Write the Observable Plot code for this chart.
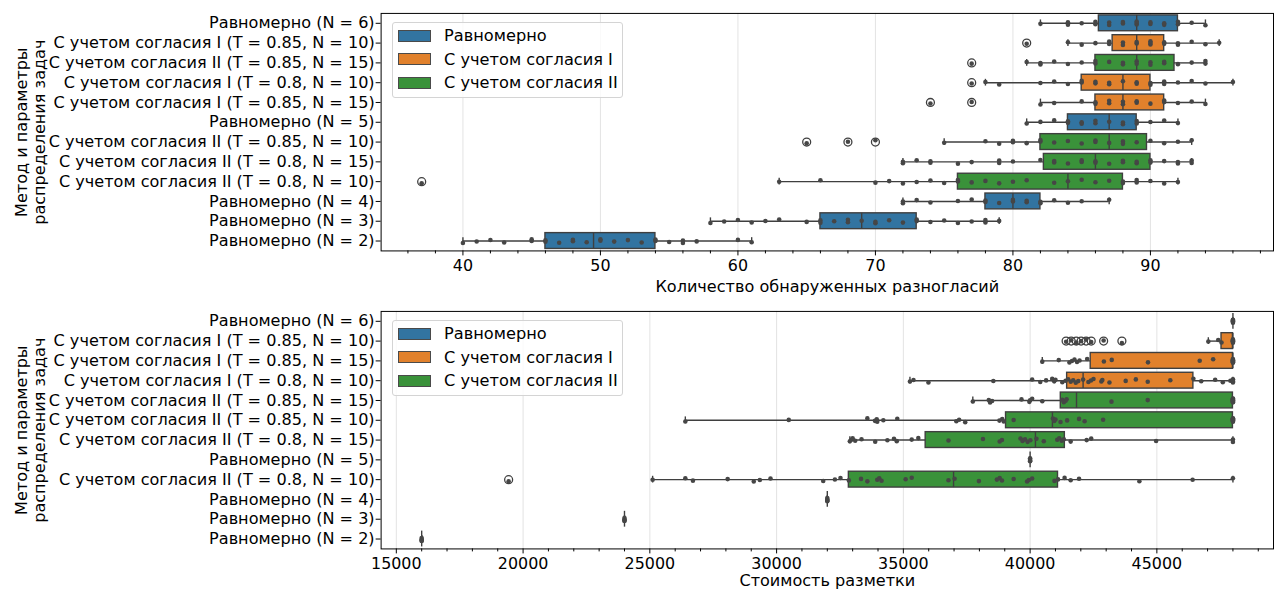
<!DOCTYPE html>
<html><head><meta charset="utf-8">
<script src="https://cdn.jsdelivr.net/npm/d3@7"></script>
<script src="https://cdn.jsdelivr.net/npm/@observablehq/plot@0.6"></script>
<style>
html,body{margin:0;padding:0;overflow:hidden;background:#fff;width:1274px;height:590px}
#wrap{position:relative;width:1274px;height:590px;overflow:hidden}
.panel{position:absolute;left:0}
.legend{position:absolute;left:392px;width:229px;height:74px;border:1px solid #d4d4d4;border-radius:3px;background:rgba(255,255,255,0.8);font-family:"DejaVu Sans",sans-serif;font-size:16.2px;color:#000}
.legend .row{position:absolute;left:5px;height:22px;display:flex;align-items:center;white-space:nowrap}
.legend .sw{width:31px;height:10px;border:1px solid #4a4a4a;margin-right:13px}
</style></head>
<body><div id="wrap"></div>
<script>
// ---------- shared ----------
const methods = ["Равномерно", "С учетом согласия I", "С учетом согласия II"];
const methodColors = ["#3274a1", "#e1812c", "#3a923a"];
const yTitle = "Метод и параметры\nраспределения задач";

// ---------- top panel: number of detected disagreements ----------
const topTitle = "Количество обнаруженных разногласий";
const topCats = [
  "Равномерно (N = 6)",
  "С учетом согласия I (T = 0.85, N = 10)",
  "С учетом согласия II (T = 0.85, N = 15)",
  "С учетом согласия I (T = 0.8, N = 10)",
  "С учетом согласия I (T = 0.85, N = 15)",
  "Равномерно (N = 5)",
  "С учетом согласия II (T = 0.85, N = 10)",
  "С учетом согласия II (T = 0.8, N = 15)",
  "С учетом согласия II (T = 0.8, N = 10)",
  "Равномерно (N = 4)",
  "Равномерно (N = 3)",
  "Равномерно (N = 2)"
];
const topQ1  = [86.25, 87.25, 86, 85, 86, 84, 82, 82.25, 76, 78, 66, 46];
const topMed = [89, 89, 89, 88, 88, 87, 87, 86, 84, 80, 69, 49.5];
const topQ3  = [92, 91, 91.75, 90, 91, 89, 89.75, 90, 88, 82, 73, 54];
const topLo  = [82, 84, 81, 78, 82, 81, 75, 72, 63, 72, 58, 40];
const topHi  = [94, 95, 94, 96, 94, 92, 93, 93, 92, 87, 79, 61];
const topOutliers = [[], [81], [77], [77], [74, 77], [], [65, 68, 70], [], [37], [], [], []];
const topPoints = [
  [82, 84, 84, 85, 86, 86, 87, 87, 88, 88, 89, 89, 89, 90, 90, 91, 91, 92, 92, 93, 94],
  [81, 84, 85, 86, 87, 87, 88, 88, 89, 89, 90, 90, 90, 91, 91, 92, 92, 93, 94, 95],
  [77, 81, 82, 82, 83, 84, 85, 86, 86, 87, 88, 88, 89, 89, 90, 90, 91, 91, 92, 93, 94, 94],
  [77, 78, 79, 82, 83, 84, 85, 85, 86, 86, 87, 87, 88, 89, 89, 90, 90, 91, 91, 92, 93, 94, 96],
  [74, 77, 82, 83, 85, 86, 86, 87, 87, 88, 88, 89, 89, 90, 91, 91, 92, 93, 94],
  [81, 82, 83, 84, 84, 85, 85, 86, 86, 87, 88, 88, 89, 89, 90, 91, 92],
  [65, 68, 70, 75, 78, 79, 80, 80, 81, 82, 82, 83, 84, 85, 86, 86, 87, 88, 88, 89, 90, 91, 92, 93],
  [72, 72, 73, 74, 74, 76, 77, 79, 79, 80, 82, 83, 83, 84, 85, 85, 86, 86, 87, 88, 88, 89, 89, 90, 90, 91, 92, 92, 93, 93],
  [37, 63, 66, 70, 71, 72, 73, 74, 75, 76, 76, 77, 78, 79, 80, 81, 83, 84, 85, 86, 87, 88, 88, 89, 89, 90, 91, 92],
  [72, 72, 73, 74, 76, 77, 78, 78, 79, 80, 80, 81, 81, 82, 82, 83, 84, 85, 87],
  [58, 59, 60, 61, 62, 63, 65, 66, 66, 67, 68, 68, 69, 70, 70, 71, 72, 73, 73, 74, 75, 76, 77, 78, 78, 79],
  [40, 41, 42, 43, 45, 45, 46, 46, 47, 48, 48, 49, 50, 50, 51, 52, 53, 54, 54, 55, 56, 56, 57, 60, 61]
];
const topTicks = [40, 50, 60, 70, 80, 90];
const topMinorTicks = [36, 38, 42, 44, 46, 48, 52, 54, 56, 58, 62, 64, 66, 68, 72, 74, 76, 78, 82, 84, 86, 88, 92, 94, 96, 98];

// ---------- bottom panel: labelling cost ----------
const botTitle = "Стоимость разметки";
const botCats = [
  "Равномерно (N = 6)",
  "С учетом согласия I (T = 0.85, N = 10)",
  "С учетом согласия I (T = 0.85, N = 15)",
  "С учетом согласия I (T = 0.8, N = 10)",
  "С учетом согласия II (T = 0.85, N = 15)",
  "С учетом согласия II (T = 0.85, N = 10)",
  "С учетом согласия II (T = 0.8, N = 15)",
  "Равномерно (N = 5)",
  "С учетом согласия II (T = 0.8, N = 10)",
  "Равномерно (N = 4)",
  "Равномерно (N = 3)",
  "Равномерно (N = 2)"
];
const botQ1  = [48000, 47550, 42390, 41460, 41210, 39050, 35880, 40000, 32850, 32000, 24000, 16000];
const botMed = [48000, 48000, 48000, 42090, 41830, 40880, 40210, 40000, 36980, 32000, 24000, 16000];
const botQ3  = [48000, 48000, 48000, 46440, 48000, 48000, 41370, 40000, 41100, 32000, 24000, 16000];
const botLo  = [48000, 47030, 40480, 35260, 37740, 26400, 32890, 40000, 25110, 32000, 24000, 16000];
const botHi  = [48000, 48000, 48000, 48000, 48000, 48000, 48000, 40000, 48000, 32000, 24000, 16000];
const botOutliers = [[], [41420, 41620, 41820, 42010, 42210, 42410, 42900, 43620], [], [], [], [], [], [], [19430], [], [], []];
const botPoints = [
  [48000, 48000, 48000, 48000, 48000],
  [41420, 41620, 41820, 42010, 42210, 42410, 42900, 43620, 47030, 47420, 47550, 48000, 48000, 48000, 48000, 48000, 48000],
  [40480, 41130, 41550, 41650, 41750, 41850, 41950, 42250, 42910, 43220, 44650, 46690, 47220, 48000, 48000, 48000, 48000, 48000, 48000, 48000, 48000],
  [35260, 35400, 35990, 38550, 40080, 40400, 40630, 40870, 40950, 41000, 41270, 41400, 41500, 41600, 41700, 41800, 41900, 42090, 42300, 42400, 42500, 42810, 42850, 43130, 43770, 44170, 44640, 45530, 46440, 46750, 47300, 47600, 47900, 48000, 48000, 48000, 48000, 48000],
  [37740, 38370, 38420, 38500, 39660, 39970, 40000, 40080, 40480, 41270, 41330, 41400, 41440, 43210, 44640, 48000, 48000, 48000, 48000, 48000, 48000, 48000, 48000, 48000, 48000],
  [26400, 30480, 33580, 33880, 33950, 33970, 34210, 34760, 37090, 37200, 37440, 38790, 38900, 38960, 39350, 40900, 40950, 41000, 41200, 41460, 41930, 42150, 42880, 48000, 48000, 48000, 48000, 48000, 48000, 48000, 48000],
  [32890, 32950, 33000, 33100, 33350, 33890, 34370, 34630, 34740, 35330, 35590, 36780, 38140, 38800, 38890, 39620, 39700, 39800, 39900, 40010, 40250, 40540, 41070, 41150, 41250, 41330, 41600, 42230, 42410, 44970, 48000, 48000],
  [40000, 40000, 40000, 40000],
  [19430, 25110, 26400, 26700, 28070, 29100, 29340, 29760, 31840, 32300, 32520, 32850, 33330, 33580, 33970, 34050, 34140, 35090, 35330, 36780, 37020, 37980, 38690, 38800, 38890, 39350, 39880, 39950, 40080, 40960, 41100, 41360, 41600, 41930, 44310, 46410, 48000],
  [32000, 32000, 32000, 32000],
  [24000, 24000, 24000, 24000],
  [16000, 16000, 16000, 16000]
];
const botTicks = [15000, 20000, 25000, 30000, 35000, 40000, 45000];
const botMinorTicks = [16000, 17000, 18000, 19000, 21000, 22000, 23000, 24000, 26000, 27000, 28000, 29000, 31000, 32000, 33000, 34000, 36000, 37000, 38000, 39000, 41000, 42000, 43000, 44000, 46000, 47000, 48000, 49000];

// ---------- drawing ----------
const lineColor = "#3f3f3f";
function methodOf(label) {
  if (label.startsWith("Равномерно")) return methods[0];
  return label.includes("согласия II") ? methods[2] : methods[1];
}
// deterministic stripplot jitter (rendering offset only)
function jit(n) { return (((n * 0.6180339887) % 1) - 0.5) * 0.2; }

function makePanel(cfg) {
  const boxes = cfg.cats.map((c, i) => ({
    i, cat: c, method: methodOf(c),
    q1: cfg.q1[i], med: cfg.med[i], q3: cfg.q3[i], lo: cfg.lo[i], hi: cfg.hi[i]
  }));
  const fliers = cfg.outliers.flatMap((arr, i) => arr.map(v => ({i, v})));
  const pts = cfg.points.flatMap((arr, i) => arr.map((v, k) => ({i, v, yj: i + jit(i * 13 + k + 1)})));
  const y1 = d => d.i - 0.4, y2 = d => d.i + 0.4;
  return Plot.plot({
    width: 1282, height: cfg.height,
    marginLeft: 383, marginRight: 1, marginTop: 13, marginBottom: cfg.height - 13 - 239,
    style: {fontFamily: "DejaVu Sans, sans-serif", fontSize: "16px", color: "#000", background: "transparent", overflow: "visible"},
    x: {domain: cfg.domain, label: null},
    y: {domain: [11.5, -0.5], label: null},
    color: {domain: methods, range: methodColors},
    marks: [
      Plot.gridX(cfg.ticks, {stroke: "#e3e3e3", strokeOpacity: 1, strokeWidth: 1}),
      Plot.ruleY(boxes, {y: "i", x1: "lo", x2: "q1", stroke: lineColor, strokeWidth: 1.4}),
      Plot.ruleY(boxes, {y: "i", x1: "q3", x2: "hi", stroke: lineColor, strokeWidth: 1.4}),
      Plot.ruleX(boxes, {x: "lo", y1: d => d.i - 0.17, y2: d => d.i + 0.17, stroke: lineColor, strokeWidth: 1.4}),
      Plot.ruleX(boxes, {x: "hi", y1: d => d.i - 0.17, y2: d => d.i + 0.17, stroke: lineColor, strokeWidth: 1.4}),
      Plot.rect(boxes, {x1: "q1", x2: "q3", y1, y2, fill: "method", stroke: lineColor, strokeWidth: 1.4}),
      Plot.ruleX(boxes, {x: "med", y1, y2, stroke: lineColor, strokeWidth: 1.4}),
      Plot.dot(fliers, {x: "v", y: "i", r: 4, stroke: lineColor, fill: "none", strokeWidth: 1.3}),
      Plot.dot(pts, {x: "v", y: "yj", r: 2.3, fill: "#464646"}),
      Plot.axisX(cfg.minor, {tickSize: 3, tickFormat: () => "", label: null}),
      Plot.axisX(cfg.ticks, {tickSize: 5, tickPadding: 4, tickFormat: d => String(d), label: null, fontSize: 16}),
      Plot.axisY(d3.range(cfg.cats.length), {tickSize: 5, tickPadding: 1.5, tickFormat: i => cfg.cats[i], label: null, fontSize: 16.2}),
      Plot.frame({stroke: "#000", strokeWidth: 1}),
      Plot.text([cfg.title], {frameAnchor: "bottom", dy: cfg.titleDy, fontSize: 16.2, lineAnchor: "middle", textAnchor: "middle"}),
      Plot.text([yTitle], {frameAnchor: "left", dx: -353, rotate: -90, fontSize: 16.2, textAnchor: "middle", lineAnchor: "middle", lineHeight: 1.15})
    ]
  });
}

function makeLegend(top) {
  const lg = document.createElement("div");
  lg.className = "legend";
  lg.style.top = top + "px";
  methods.forEach((m, r) => {
    const row = document.createElement("div");
    row.className = "row";
    row.style.top = (13.3 + 23.35 * r - 11) + "px";
    const sw = document.createElement("div");
    sw.className = "sw";
    sw.style.background = methodColors[r];
    const tx = document.createElement("span");
    tx.textContent = m;
    row.appendChild(sw); row.appendChild(tx);
    lg.appendChild(row);
  });
  return lg;
}

const wrap = document.getElementById("wrap");
const top1 = makePanel({cats: topCats, q1: topQ1, med: topMed, q3: topQ3, lo: topLo, hi: topHi,
  outliers: topOutliers, points: topPoints, domain: [34.05, 98.95], ticks: topTicks, minor: topMinorTicks,
  title: topTitle, height: 300, titleDy: 36});
top1.classList.add("panel"); top1.style.top = "0px";
wrap.appendChild(top1);
const bot1 = makePanel({cats: botCats, q1: botQ1, med: botMed, q3: botQ3, lo: botLo, hi: botHi,
  outliers: botOutliers, points: botPoints, domain: [14400, 49600], ticks: botTicks, minor: botMinorTicks,
  title: botTitle, height: 292, titleDy: 32});
bot1.classList.add("panel"); bot1.style.top = "298px";
wrap.appendChild(bot1);
wrap.appendChild(makeLegend(21.5));
wrap.appendChild(makeLegend(319.5));
</script></body></html>
